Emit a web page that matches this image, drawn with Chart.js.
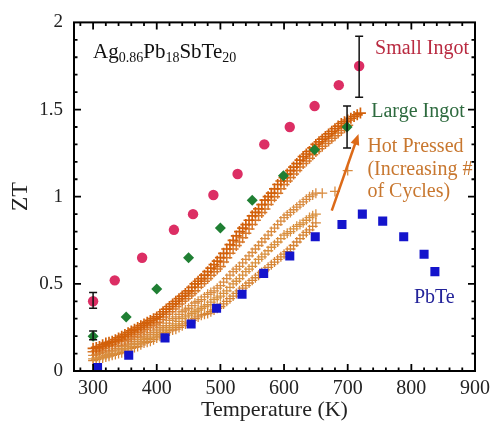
<!DOCTYPE html>
<html>
<head>
<meta charset="utf-8">
<script src="https://cdn.jsdelivr.net/npm/chart.js@4"></script>
<style>
  body { margin: 0; background: #fff; }
  #wrap { width: 496px; height: 423px; }
</style>
</head>
<body>
<div id="wrap"><canvas id="chart" width="496" height="423"></canvas></div>
<script>
// values
const xTicks = [300, 400, 500, 600, 700, 800, 900];
const yTicks = [0, 0.5, 1, 1.5, 2];

const smallT  = [300, 334, 377, 427, 457, 489, 527, 569, 609, 648, 686, 718];
const smallZT = [0.40, 0.52, 0.65, 0.81, 0.90, 1.01, 1.13, 1.30, 1.40, 1.52, 1.64, 1.75];

const largeT  = [300, 352, 400, 450, 500, 550, 599, 648, 699];
const largeZT = [0.20, 0.31, 0.47, 0.65, 0.82, 0.98, 1.12, 1.27, 1.40];

const pbteT  = [307, 356, 413, 454, 494, 534, 568, 609, 649, 691, 723, 755, 788, 820, 837];
const pbteZT = [0.02, 0.09, 0.19, 0.27, 0.36, 0.44, 0.56, 0.66, 0.77, 0.84, 0.90, 0.86, 0.77, 0.67, 0.57];

// hot pressed runs, one reading every 5 K (null = no point there)
const hpT = [300, 305, 310, 315, 320, 325, 330, 335, 340, 345,
  350, 355, 360, 365, 370, 375, 380, 385, 390, 395,
  400, 405, 410, 415, 420, 425, 430, 435, 440, 445,
  450, 455, 460, 465, 470, 475, 480, 485, 490, 495,
  500, 505, 510, 515, 520, 525, 530, 535, 540, 545,
  550, 555, 560, 565, 570, 575, 580, 585, 590, 595,
  600, 605, 610, 615, 620, 625, 630, 635, 640, 645,
  650, 655, 660, 665, 670, 675, 680, 685, 690, 695,
  700, 705, 710, 715, 720];
const hp1 = [0.13, 0.135, 0.14, 0.15, 0.16, 0.165, 0.17, 0.18, 0.19, 0.20,
  0.21, 0.22, 0.23, 0.24, 0.25, 0.26, 0.27, 0.28, 0.29, 0.30,
  0.31, 0.325, 0.34, 0.355, 0.37, 0.385, 0.40, 0.415, 0.43, 0.445,
  0.46, 0.48, 0.50, 0.515, 0.53, 0.55, 0.57, 0.59, 0.61, 0.63,
  0.65, 0.675, 0.70, 0.725, 0.75, 0.775, 0.80, 0.82, 0.84, 0.865,
  0.89, 0.91, 0.93, 0.955, 0.98, 1.00, 1.02, 1.045, 1.07, 1.09,
  1.11, 1.13, 1.15, 1.17, 1.19, 1.21, 1.23, 1.245, 1.26, 1.28,
  1.30, 1.315, 1.33, 1.345, 1.36, 1.375, 1.39, 1.405, 1.42, 1.43,
  1.44, 1.45, 1.46, 1.47, 1.48];
const hp2 = [0.11, 0.115, 0.12, 0.13, 0.14, 0.145, 0.15, 0.16, 0.17, 0.175,
  0.18, 0.19, 0.20, 0.21, 0.22, 0.23, 0.24, 0.25, 0.26, 0.27,
  0.28, 0.295, 0.31, 0.325, 0.34, 0.355, 0.37, 0.385, 0.40, 0.415,
  0.43, 0.445, 0.46, 0.48, 0.50, 0.515, 0.53, 0.55, 0.57, 0.585,
  0.60, 0.625, 0.65, 0.675, 0.70, 0.72, 0.74, 0.765, 0.79, 0.815,
  0.84, 0.865, 0.89, 0.91, 0.93, 0.955, 0.98, 1.00, 1.02, 1.045,
  1.07, 1.09, 1.11, 1.13, 1.15, 1.17, 1.19, 1.205, 1.22, 1.24,
  1.26, 1.275, 1.29, 1.305, 1.32, 1.335, 1.35, 1.365, 1.38, 1.395,
  1.41];
const hp3 = [0.09, 0.095, 0.10, 0.105, 0.11, 0.115, 0.12, 0.13, 0.14, 0.145,
  0.15, 0.16, 0.17, 0.18, 0.19, 0.195, 0.20, 0.21, 0.22, 0.23,
  0.24, 0.25, 0.26, 0.275, 0.29, 0.30, 0.31, 0.325, 0.34, 0.35,
  0.36, 0.375, 0.39, 0.40, 0.41, 0.425, 0.44, 0.45, 0.46, 0.475,
  0.49, 0.51, 0.53, 0.55, 0.57, 0.585, 0.60, 0.62, 0.64, 0.66,
  0.68, 0.70, 0.72, 0.74, 0.76, 0.78, 0.80, 0.82, 0.84, 0.86,
  0.88, 0.895, 0.91, 0.925, 0.94, 0.955, 0.97, 0.985, 1.00, 1.01,
  1.02, null, 1.02, null, null, null, 1.03, null, null, null,
  1.15];
const hp4 = [0.07, 0.075, 0.08, 0.085, 0.09, 0.095, 0.10, 0.11, 0.12, 0.125,
  0.13, 0.14, 0.15, 0.155, 0.16, 0.17, 0.18, 0.185, 0.19, 0.20,
  0.21, 0.22, 0.23, 0.24, 0.25, 0.26, 0.27, 0.285, 0.30, 0.31,
  0.32, 0.33, 0.34, 0.35, 0.36, 0.37, 0.38, 0.395, 0.41, 0.42,
  0.43, 0.445, 0.46, 0.48, 0.50, 0.515, 0.53, 0.55, 0.57, 0.585,
  0.60, 0.62, 0.64, 0.655, 0.67, 0.69, 0.71, 0.725, 0.74, 0.76,
  0.78, 0.79, 0.80, 0.815, 0.83, 0.84, 0.85, 0.865, 0.88, 0.89,
  0.90];
const hp5 = [0.06, 0.065, 0.07, 0.075, 0.08, 0.085, 0.09, 0.095, 0.10, 0.105,
  0.11, 0.12, 0.13, 0.135, 0.14, 0.15, 0.16, 0.165, 0.17, 0.18,
  0.19, 0.20, 0.21, 0.22, 0.23, 0.235, 0.24, 0.25, 0.26, 0.27,
  0.28, 0.29, 0.30, 0.31, 0.32, 0.325, 0.33, 0.34, 0.35, 0.36,
  0.37, 0.385, 0.40, 0.415, 0.43, 0.445, 0.46, 0.475, 0.49, 0.505,
  0.52, 0.535, 0.55, 0.565, 0.58, 0.595, 0.61, 0.625, 0.64, 0.655,
  0.67, 0.685, 0.70, 0.72, 0.74, 0.76, 0.78, 0.795, 0.81, 0.83,
  0.85];

// error bars: [T, low, high]
const smallErr = [[300, 0.36, 0.45], [718, 1.57, 1.92]];
const largeErr = [[300, 0.18, 0.23], [699, 1.28, 1.52]];

// arrow for increasing cycles: from / to in data units
const arrowFrom = [675, 0.92];
const arrowTo = [717, 1.36];

const serif = "'Liberation Serif', 'Times New Roman', serif";

function pts(xs, ys) {
  const out = [];
  ys.forEach((y, i) => { if (y !== null) out.push({ x: xs[i], y: y }); });
  return out;
}

function hpSet(vals, color, r, w) {
  return {
    label: 'Hot Pressed',
    data: pts(hpT, vals),
    pointStyle: 'cross',
    pointRadius: r,
    borderColor: color,
    backgroundColor: color,
    pointBorderWidth: w
  };
}

const labels = [
  { text: 'Small Ingot', x: 743, y: 1.85, color: '#b92a40' },
  { text: 'Large Ingot', x: 737, y: 1.49, color: '#2d6a3e' },
  { text: 'Hot Pressed', x: 731, y: 1.285, color: '#c8772f' },
  { text: '(Increasing #', x: 731, y: 1.155, color: '#c8772f' },
  { text: 'of Cycles)', x: 731, y: 1.03, color: '#c8772f' },
  { text: 'PbTe', x: 804, y: 0.42, color: '#23239a' }
];

const decor = {
  id: 'decor',
  afterDatasetsDraw(chart) {
    const ctx = chart.ctx;
    const xs = chart.scales.x, ys = chart.scales.y;
    const a = chart.chartArea;
    ctx.save();

    // error bars
    ctx.strokeStyle = '#111';
    ctx.lineWidth = 1.5;
    smallErr.concat(largeErr).forEach(e => {
      const px = xs.getPixelForValue(e[0]);
      const y1 = ys.getPixelForValue(e[1]), y2 = ys.getPixelForValue(e[2]);
      ctx.beginPath();
      ctx.moveTo(px, y1); ctx.lineTo(px, y2);
      ctx.moveTo(px - 4, y1); ctx.lineTo(px + 4, y1);
      ctx.moveTo(px - 4, y2); ctx.lineTo(px + 4, y2);
      ctx.stroke();
    });

    // arrow
    const ax1 = xs.getPixelForValue(arrowFrom[0]), ay1 = ys.getPixelForValue(arrowFrom[1]);
    const ax2 = xs.getPixelForValue(arrowTo[0]), ay2 = ys.getPixelForValue(arrowTo[1]);
    const ang = Math.atan2(ay2 - ay1, ax2 - ax1);
    ctx.strokeStyle = '#dc6a18';
    ctx.fillStyle = '#dc6a18';
    ctx.lineWidth = 2.5;
    ctx.beginPath();
    ctx.moveTo(ax1, ay1);
    ctx.lineTo(ax2 - 8 * Math.cos(ang), ay2 - 8 * Math.sin(ang));
    ctx.stroke();
    ctx.beginPath();
    ctx.moveTo(ax2, ay2);
    ctx.lineTo(ax2 - 11 * Math.cos(ang) + 4.5 * Math.sin(ang), ay2 - 11 * Math.sin(ang) - 4.5 * Math.cos(ang));
    ctx.lineTo(ax2 - 11 * Math.cos(ang) - 4.5 * Math.sin(ang), ay2 - 11 * Math.sin(ang) + 4.5 * Math.cos(ang));
    ctx.closePath();
    ctx.fill();

    // series labels
    ctx.font = '20px ' + serif;
    ctx.textBaseline = 'middle';
    ctx.textAlign = 'left';
    labels.forEach(l => {
      ctx.fillStyle = l.color;
      ctx.fillText(l.text, xs.getPixelForValue(l.x), ys.getPixelForValue(l.y));
    });

    // compound name with subscripts
    let cx = xs.getPixelForValue(300);
    const cy = ys.getPixelForValue(1.83);
    ctx.fillStyle = '#111';
    [['Ag', 0], ['0.86', 1], ['Pb', 0], ['18', 1], ['SbTe', 0], ['20', 1]].forEach(p => {
      ctx.font = (p[1] ? '14px ' : '21px ') + serif;
      ctx.fillText(p[0], cx, cy + (p[1] ? 6 : 0));
      cx += ctx.measureText(p[0]).width;
    });

    // frame and inward ticks on all four sides
    ctx.strokeStyle = '#000';
    ctx.lineWidth = 2;
    ctx.strokeRect(a.left, a.top, a.right - a.left, a.bottom - a.top);
    ctx.lineWidth = 1.8;
    ctx.beginPath();
    for (let t = 280; t <= 900; t += 20) {
      const px = xs.getPixelForValue(t);
      const len = t % 100 === 0 ? 7 : 3.5;
      ctx.moveTo(px, a.bottom); ctx.lineTo(px, a.bottom - len);
      ctx.moveTo(px, a.top); ctx.lineTo(px, a.top + len);
    }
    for (let k = 1; k < 20; k++) {
      const py = ys.getPixelForValue(k / 10);
      const len = k % 5 === 0 ? 7 : 3.5;
      ctx.moveTo(a.left, py); ctx.lineTo(a.left + len, py);
      ctx.moveTo(a.right, py); ctx.lineTo(a.right - len, py);
    }
    ctx.stroke();
    ctx.restore();
  }
};

new Chart(document.getElementById('chart'), {
  type: 'scatter',
  data: {
    datasets: [
      { label: 'Small Ingot', data: pts(smallT, smallZT), pointStyle: 'circle', pointRadius: 5.2,
        backgroundColor: '#dc2e64', borderColor: '#dc2e64', borderWidth: 0 },
      { label: 'Large Ingot', data: pts(largeT, largeZT), pointStyle: 'rectRot', pointRadius: 5.5,
        backgroundColor: '#1f7f33', borderColor: '#1f7f33', borderWidth: 0 },
      { label: 'PbTe', data: pts(pbteT, pbteZT), pointStyle: 'rect', pointRadius: 6.4,
        backgroundColor: '#1414cc', borderColor: '#1414cc', borderWidth: 0 },
      hpSet(hp1, '#d2600a', 5.5, 1.7),
      hpSet(hp2, '#d8782a', 5.5, 1.5),
      hpSet(hp3, '#d98c40', 5, 1.3),
      hpSet(hp4, '#d9903e', 5, 1.3),
      hpSet(hp5, '#d68434', 5, 1.3)
    ]
  },
  options: {
    responsive: false,
    animation: false,
    devicePixelRatio: 1,
    layout: { padding: { top: 22, right: 18, left: 0, bottom: 0 } },
    plugins: { legend: { display: false }, tooltip: { enabled: false } },
    scales: {
      x: {
        type: 'linear', min: 270, max: 900,
        afterBuildTicks: s => { s.ticks = xTicks.map(v => ({ value: v })); },
        afterFit: s => { s.height = 52; },
        grid: { display: false, drawTicks: false },
        border: { display: false },
        ticks: { color: '#222', font: { family: serif, size: 20 }, padding: 6, maxRotation: 0 },
        title: { display: true, text: 'Temperature (K)', color: '#222',
          font: { family: serif, size: 22 }, padding: { top: 0, bottom: 0 } }
      },
      y: {
        type: 'linear', min: 0, max: 2,
        afterBuildTicks: s => { s.ticks = yTicks.map(v => ({ value: v })); },
        afterFit: s => { s.width = 74; },
        grid: { display: false, drawTicks: false },
        border: { display: false },
        ticks: { color: '#222', font: { family: serif, size: 19 }, padding: 11,
          callback: v => String(v) },
        title: { display: true, text: 'ZT', color: '#222',
          font: { family: serif, size: 24 }, padding: { top: 6, bottom: 0 } }
      }
    }
  },
  plugins: [decor]
});
</script>
</body>
</html>
